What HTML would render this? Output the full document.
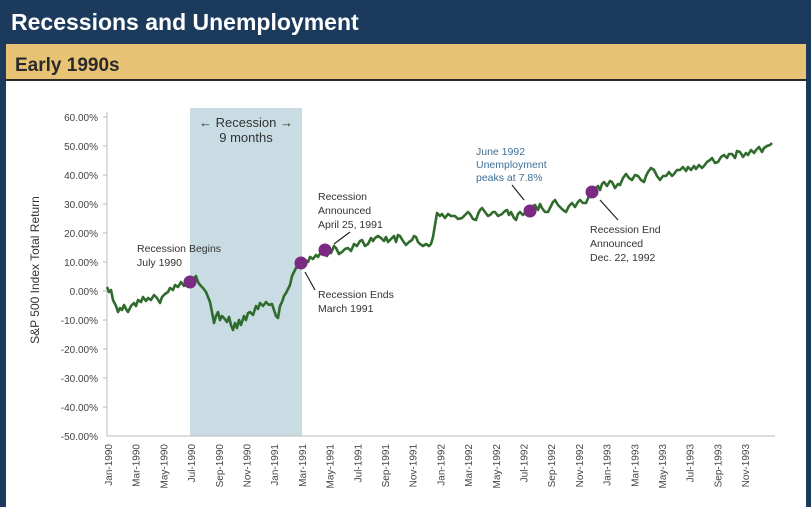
<!DOCTYPE html>
<html><head><meta charset="utf-8"><style>
html,body{margin:0;padding:0;background:#fff;}
body{width:811px;height:507px;overflow:hidden;position:relative;font-family:"Liberation Sans",sans-serif;}
</style></head><body>
<svg width="811" height="507" viewBox="0 0 811 507" xmlns="http://www.w3.org/2000/svg" style="position:absolute;left:0;top:0">
<rect x="0" y="0" width="811" height="507" fill="#fff"/>
<rect x="0" y="0" width="811" height="44" fill="#1b3a5c"/>
<rect x="0" y="0" width="6" height="507" fill="#1b3a5c"/>
<rect x="806" y="0" width="5" height="507" fill="#1b3a5c"/>
<rect x="6" y="44" width="800" height="36" fill="#e8c375"/>
<rect x="6" y="79" width="800" height="2" fill="#2a2a2a"/>
<text x="11" y="30" fill="#fff" font-size="23" font-weight="bold">Recessions and Unemployment</text>
<text x="15" y="71" fill="#2a2a2a" font-size="19" font-weight="bold">Early 1990s</text>

<rect x="190" y="108" width="112" height="328" fill="#c9dce3"/>
<g fill="#333" font-size="13" text-anchor="middle">
<text x="246" y="127">← Recession →</text>
<text x="246" y="142">9 months</text>
</g>
<g stroke="#bbb" stroke-width="1">
<line x1="107" y1="112" x2="107" y2="436"/>
<line x1="107" y1="436" x2="775" y2="436"/>
</g>
<g font-size="10" fill="#444" text-anchor="end">
<text x="98" y="121">60.00%</text>
<text x="98" y="150">50.00%</text>
<text x="98" y="179">40.00%</text>
<text x="98" y="208">30.00%</text>
<text x="98" y="237">20.00%</text>
<text x="98" y="266">10.00%</text>
<text x="98" y="295">0.00%</text>
<text x="98" y="324">-10.00%</text>
<text x="98" y="353">-20.00%</text>
<text x="98" y="382">-30.00%</text>
<text x="98" y="411">-40.00%</text>
<text x="98" y="440">-50.00%</text>
</g>
<g stroke="#bbb"><line x1="103" y1="117" x2="107" y2="117"/><line x1="103" y1="146" x2="107" y2="146"/><line x1="103" y1="175" x2="107" y2="175"/><line x1="103" y1="204" x2="107" y2="204"/><line x1="103" y1="233" x2="107" y2="233"/><line x1="103" y1="262" x2="107" y2="262"/><line x1="103" y1="291" x2="107" y2="291"/><line x1="103" y1="320" x2="107" y2="320"/><line x1="103" y1="349" x2="107" y2="349"/><line x1="103" y1="378" x2="107" y2="378"/><line x1="103" y1="407" x2="107" y2="407"/></g>
<text transform="translate(39,270) rotate(-90)" font-size="12" fill="#333" text-anchor="middle">S&amp;P 500 Index Total Return</text>

<g font-size="10" fill="#444" text-anchor="end">
<text transform="translate(112,444) rotate(-90)">Jan-1990</text>
<text transform="translate(139.7,444) rotate(-90)">Mar-1990</text>
<text transform="translate(167.4,444) rotate(-90)">May-1990</text>
<text transform="translate(195.1,444) rotate(-90)">Jul-1990</text>
<text transform="translate(222.8,444) rotate(-90)">Sep-1990</text>
<text transform="translate(250.5,444) rotate(-90)">Nov-1990</text>
<text transform="translate(278.2,444) rotate(-90)">Jan-1991</text>
<text transform="translate(305.9,444) rotate(-90)">Mar-1991</text>
<text transform="translate(333.6,444) rotate(-90)">May-1991</text>
<text transform="translate(361.3,444) rotate(-90)">Jul-1991</text>
<text transform="translate(389,444) rotate(-90)">Sep-1991</text>
<text transform="translate(416.7,444) rotate(-90)">Nov-1991</text>
<text transform="translate(444.4,444) rotate(-90)">Jan-1992</text>
<text transform="translate(472.1,444) rotate(-90)">Mar-1992</text>
<text transform="translate(499.8,444) rotate(-90)">May-1992</text>
<text transform="translate(527.5,444) rotate(-90)">Jul-1992</text>
<text transform="translate(555.2,444) rotate(-90)">Sep-1992</text>
<text transform="translate(582.9,444) rotate(-90)">Nov-1992</text>
<text transform="translate(610.6,444) rotate(-90)">Jan-1993</text>
<text transform="translate(638.3,444) rotate(-90)">Mar-1993</text>
<text transform="translate(666,444) rotate(-90)">May-1993</text>
<text transform="translate(693.7,444) rotate(-90)">Jul-1993</text>
<text transform="translate(721.4,444) rotate(-90)">Sep-1993</text>
<text transform="translate(749.1,444) rotate(-90)">Nov-1993</text>
</g>

<polyline fill="none" stroke="#2f6b2c" stroke-width="2.6" stroke-linejoin="round" points="107,287 109,292 111,290 113,300 116,306 118,312 120,308 122,310 124,305 126,309 128,312 131,306 134,303 136,306 138,300 141,302 143,297 146,301 148,298 151,300 154,295 157,298 160,303 162,297 165,294 168,292 170,288 173,290 175,285 178,287 181,282 184,286 187,280 190,283 193,279 196,276 198,282 200,285 203,288 206,292 208,297 210,302 212,312 214,323 216,316 218,312 220,320 222,316 224,318 227,322 229,317 231,325 233,330 235,323 237,328 239,320 241,325 244,316 246,320 248,313 250,312 253,315 256,306 258,309 260,303 263,306 266,302 269,305 272,304 274,310 276,316 278,318 280,306 282,302 284,296 286,293 288,289 290,285 292,276 294,272 296,268 298,264 300,262 303,263 305,260 308,262 310,257 313,259 316,255 318,257 321,252 324,249 327,256 329,250 331,253 334,246 336,248 339,254 342,252 345,249 348,248 351,251 354,244 357,246 360,241 362,240 365,246 368,244 371,238 373,241 375,238 378,236 381,238 384,241 386,237 388,242 391,239 394,236 396,242 398,235 400,236 403,241 406,245 409,242 412,240 414,236 416,237 418,242 420,244 423,246 426,244 429,246 431,244 433,237 435,225 437,213 440,216 442,214 445,218 448,214 451,216 455,216 458,219 462,218 465,215 468,212 470,214 473,219 476,220 478,214 480,210 482,208 485,212 488,216 490,215 493,212 495,212 498,216 502,214 505,211 507,210 509,215 511,212 514,218 516,220 518,214 520,212 523,215 526,212 528,210 531,208 533,206 535,205 538,210 540,204 542,208 545,212 548,212 551,206 553,202 555,200 558,205 560,207 563,210 566,212 569,206 572,203 575,207 578,202 580,200 583,203 586,203 589,196 592,192 595,189 598,186 600,190 602,184 604,182 607,186 610,181 612,182 615,188 618,184 620,185 623,178 626,174 629,178 632,180 635,175 638,176 641,180 644,182 646,176 648,172 651,168 654,170 657,176 660,180 663,176 666,176 669,172 672,176 674,174 677,170 680,170 683,167 686,171 688,167 691,170 694,166 696,169 699,165 702,168 704,166 707,162 710,160 712,158 715,163 718,162 721,157 724,155 727,158 729,154 732,154 735,158 737,151 740,152 743,157 746,153 748,155 751,150 754,153 756,150 759,147 762,152 764,148 767,146 770,145 772,143"/>

<g fill="#7a2a80">
<circle cx="190" cy="282" r="6.5"/>
<circle cx="301" cy="263" r="6.5"/>
<circle cx="325" cy="250" r="6.5"/>
<circle cx="530" cy="211" r="6.5"/>
<circle cx="592" cy="192" r="6.5"/>
</g>
<g stroke="#222" stroke-width="1.2">
<line x1="334" y1="244" x2="350" y2="232"/>
<line x1="305" y1="272" x2="315" y2="290"/>
<line x1="512" y1="185" x2="524" y2="200"/>
<line x1="600" y1="200" x2="618" y2="220"/>
</g>
<g font-size="10.5" fill="#333">
<text x="137" y="252">Recession Begins</text>
<text x="137" y="266">July 1990</text>
<text x="318" y="200">Recession</text>
<text x="318" y="214">Announced</text>
<text x="318" y="228">April 25, 1991</text>
<text x="318" y="298">Recession Ends</text>
<text x="318" y="312">March 1991</text>
<text x="590" y="233">Recession End</text>
<text x="590" y="247">Announced</text>
<text x="590" y="261">Dec. 22, 1992</text>
</g>
<g font-size="10.5" fill="#3d6f96">
<text x="476" y="155">June 1992</text>
<text x="476" y="168">Unemployment</text>
<text x="476" y="181">peaks at 7.8%</text>
</g>
</svg>
</body></html>
